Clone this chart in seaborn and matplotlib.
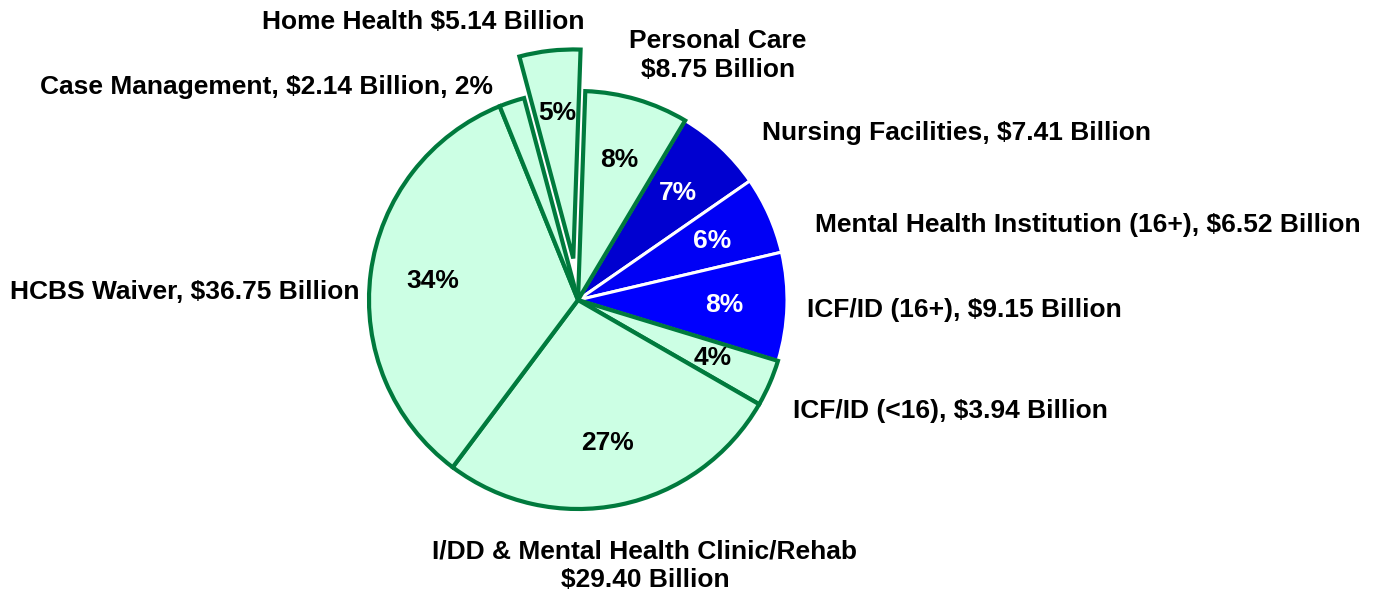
import numpy as np
import matplotlib
matplotlib.use("Agg")
import matplotlib.pyplot as plt
import seaborn as sns

sns.set_theme(style="white")
plt.rcParams['font.family'] = ['Liberation Sans', 'DejaVu Sans']
plt.rcParams['font.weight'] = 'bold'

# spending by service, billions of dollars (clockwise from the top)
services = ["Personal Care", "Nursing Facilities", "Mental Health Institution (16+)",
            "ICF/ID (16+)", "ICF/ID (<16)", "I/DD & Mental Health Clinic/Rehab",
            "HCBS Waiver", "Case Management", "Home Health"]
billions = [8.75, 7.41, 6.52, 9.15, 3.94, 29.40, 36.75, 2.14, 5.14]
labels = ["Personal Care\n$8.75 Billion",
          "Nursing Facilities, $7.41 Billion",
          "Mental Health Institution (16+), $6.52 Billion",
          "ICF/ID (16+), $9.15 Billion",
          "ICF/ID (<16), $3.94 Billion",
          "I/DD & Mental Health Clinic/Rehab\n$29.40 Billion",
          "HCBS Waiver, $36.75 Billion",
          "Case Management, $2.14 Billion, 2%",
          "Home Health $5.14 Billion"]
institutional = [False, True, True, True, False, False, False, False, False]

light = "#ccffe4"
edge_green = "#007a3d"
blues = {"Nursing Facilities": "#0000d0",
         "Mental Health Institution (16+)": "#0000f5",
         "ICF/ID (16+)": "#0000ff"}
colors = [blues.get(s, light) for s in services]
explode = [0.2 if s == "Home Health" else 0 for s in services]

# label placement (pie radius = 1, centre at 0,0)
label_pos = [(0.67, 1.17), (1.81, 0.80), (2.44, 0.36), (1.85, -0.05),
             (1.78, -0.53), (0.32, -1.27), (-1.88, 0.04), (-1.49, 1.02),
             (-0.74, 1.33)]

fig = plt.figure(figsize=(13.77, 5.93), dpi=100)
ax = fig.add_axes([0, 0, 1, 1])


def pct(p):
    return "" if p < 2.5 else "%.0f%%" % p


wedges, texts, autotexts = ax.pie(billions, colors=colors, explode=explode, startangle=88,
                                  counterclock=False, radius=1.0, autopct=pct,
                                  pctdistance=0.7,
                                  textprops=dict(fontsize=19, fontweight='bold'))
for w, inst, at in zip(wedges, institutional, autotexts):
    if inst:
        w.set_edgecolor("white")
        w.set_linewidth(2.2)
        w.set_zorder(1)
        at.set_color("white")
    else:
        w.set_edgecolor(edge_green)
        w.set_linewidth(3.0)
        w.set_zorder(2)
        at.set_color("black")
    at.set_zorder(5)

for lab, (x, y) in zip(labels, label_pos):
    ax.text(x, y, lab, ha="center", va="center", fontsize=19,
            fontweight="bold", color="black", linespacing=1.25)

ax.set_xlim(-578 / 209, (1377 - 578) / 209)
ax.set_ylim((300 - 593) / 209, 300 / 209)
ax.set_aspect("auto")
ax.axis("off")

fig.savefig("out.png", dpi=100)
